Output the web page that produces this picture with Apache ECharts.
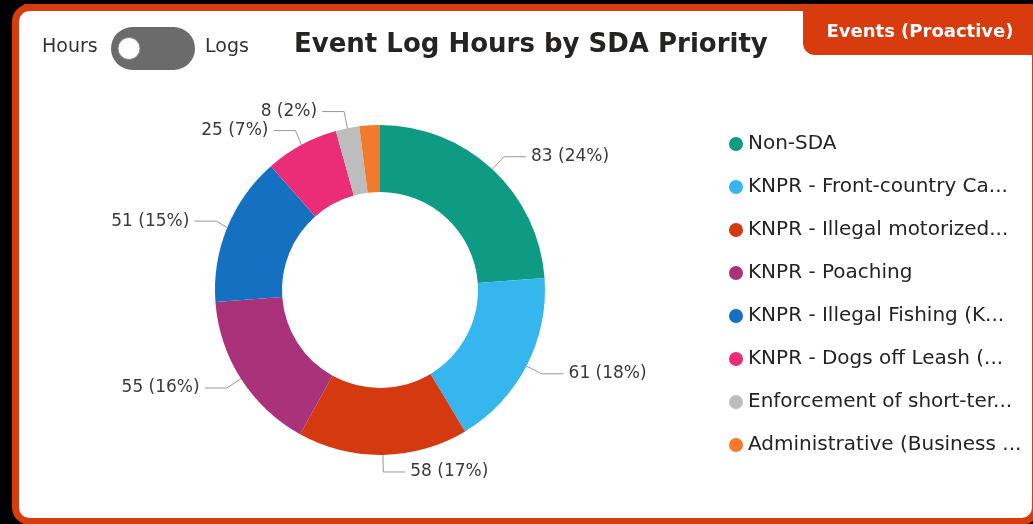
<!DOCTYPE html>
<html>
<head>
<meta charset="utf-8">
<script src="https://cdn.jsdelivr.net/npm/echarts@6/dist/echarts.min.js"></script>
<style>
html,body{margin:0;padding:0;background:#000;}
#chart{width:1033px;height:524px;}
</style>
</head>
<body>
<div id="chart"></div>
<script>
const categories = [
  "Non-SDA",
  "KNPR - Front-country Ca...",
  "KNPR - Illegal motorized...",
  "KNPR - Poaching",
  "KNPR - Illegal Fishing (K...",
  "KNPR - Dogs off Leash (...",
  "Enforcement of short-ter...",
  "Administrative (Business ..."
];
const hours = [83, 61, 58, 55, 51, 25, 8, 7];
const colors = ["#0E9A83", "#35B6EE", "#D5390F", "#A9327B", "#1570C1", "#EB2D77", "#BDBDBD", "#F27A2A"];
const showLabel = [true, true, true, true, true, true, true, false];
const titleText = "Event Log Hours by SDA Priority";
const tabText = "Events (Proactive)";

const FONT = "'DejaVu Sans', 'Open Sans', sans-serif";
const RED = "#D83B0E";

const chart = echarts.init(document.getElementById('chart'));
chart.setOption({
  backgroundColor: '#000',
  animation: false,
  title: {
    text: titleText,
    left: 289, top: 27,
    textStyle: {fontFamily: FONT, fontWeight: 'bold', fontSize: 26, color: '#252423'}
  },
  legend: {
    orient: 'vertical',
    left: 724, top: 127,
    icon: 'circle',
    itemWidth: 14, itemHeight: 14,
    itemGap: 19,
    selectedMode: false,
    textStyle: {fontFamily: FONT, fontSize: 20, color: '#252423', lineHeight: 24}
  },
  graphic: [
    {type: 'rect', z: -10, shape: {x: 15.5, y: 7.5, width: 1020, height: 514, r: 14},
     style: {fill: '#fff', stroke: RED, lineWidth: 7}},
    {type: 'rect', z: -9, shape: {x: 24, y: 4, width: 1000, height: 7}, style: {fill: RED}},
    {type: 'rect', z: -8, shape: {x: 803, y: 4, width: 240, height: 51, r: [0, 0, 0, 12]},
     style: {fill: RED}},
    {type: 'text', z: 5, style: {text: tabText, x: 920, y: 32, align: 'center', verticalAlign: 'middle',
      fill: '#fff', font: "bold 18px " + FONT}},
    {type: 'text', z: 5, style: {text: 'Hours', x: 42, y: 47, verticalAlign: 'middle',
      fill: '#333', font: "19px " + FONT}},
    {type: 'rect', z: 5, shape: {x: 111, y: 27, width: 84, height: 43, r: 21.5}, style: {fill: '#6b6b6b'}},
    {type: 'circle', z: 6, shape: {cx: 129, cy: 48.5, r: 11}, style: {fill: '#fff', stroke: '#888', lineWidth: 1}},
    {type: 'text', z: 5, style: {text: 'Logs', x: 205, y: 47, verticalAlign: 'middle',
      fill: '#333', font: "19px " + FONT}}
  ],
  series: [{
    type: 'pie',
    center: [380, 290],
    radius: [98, 165],
    startAngle: 90,
    clockwise: true,
    avoidLabelOverlap: true,
    label: {
      show: true,
      position: 'outside',
      fontFamily: FONT, fontSize: 17, color: '#3a3a3a',
      formatter: p => p.value + ' (' + Math.round(p.percent) + '%)'
    },
    labelLine: {show: true, length: 17, length2: 22, lineStyle: {color: '#999', width: 1}},
    emphasis: {disabled: true},
    data: categories.map((c, i) => ({
      name: c, value: hours[i],
      itemStyle: {color: colors[i]},
      label: {show: showLabel[i]},
      labelLine: {show: showLabel[i]}
    }))
  }]
});
</script>
</body>
</html>
